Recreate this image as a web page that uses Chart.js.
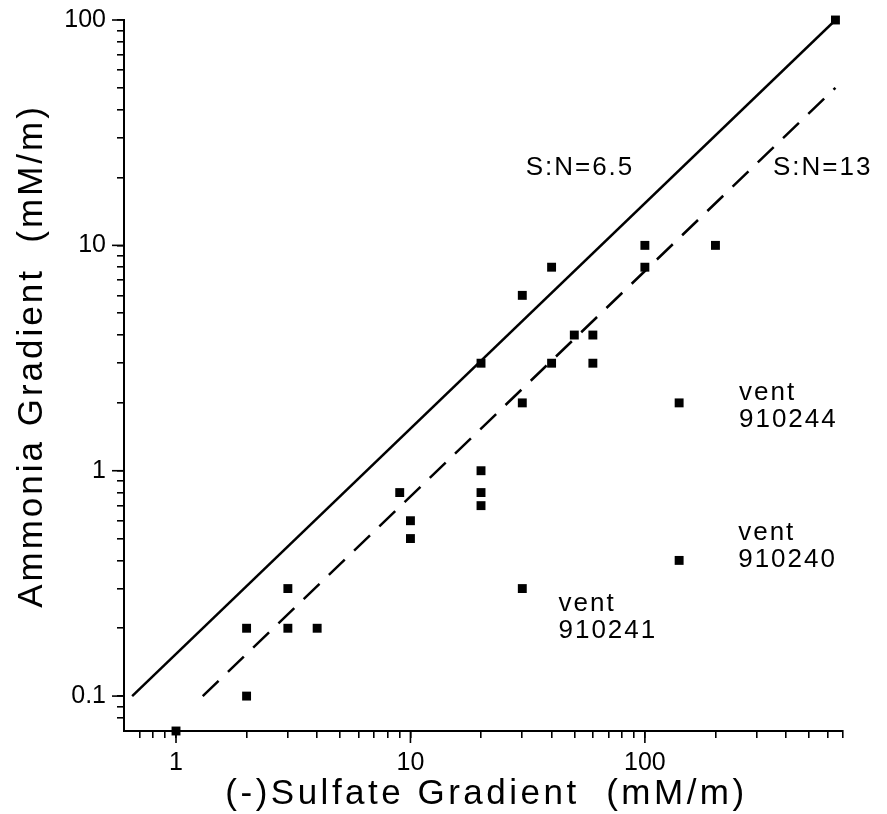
<!DOCTYPE html>
<html>
<head>
<meta charset="utf-8">
<script src="https://cdn.jsdelivr.net/npm/chart.js@4"></script>
<style>
  html, body { margin: 0; padding: 0; background: #fff; }
  #c { display: block; }
</style>
</head>
<body>
<canvas id="c" width="887" height="814"></canvas>
<script>
// ---------- data ----------
const sulfateGradient = [1, 2, 2, 3, 3, 4, 9, 10, 10, 20, 20, 20, 20, 30, 30, 30, 40, 40, 50, 60, 60, 100, 100, 140, 140, 200, 650];
const ammoniaGradient = [0.07, 0.1, 0.2, 0.3, 0.2, 0.2, 0.8, 0.6, 0.5, 3, 1, 0.8, 0.7, 6, 2, 0.3, 8, 3, 4, 4, 3, 10, 8, 2, 0.4, 10, 100];

// reference ratio lines (endpoints)
const ratio65LineX = [0.65, 650];
const ratio65LineY = [0.1, 100];
const ratio13LineX = [1.3, 650];
const ratio13LineY = [0.1, 50];

// axis ranges and ticks
const xMin = 0.62, xMax = 700;
const yMin = 0.07, yMax = 100;
const xTickValues = [0.7, 0.8, 0.9, 1, 2, 3, 4, 5, 6, 7, 8, 9, 10, 20, 30, 40, 50, 60, 70, 80, 90, 100, 200, 300, 400, 500, 600, 700];
const xTickLabels = { 1: '1', 10: '10', 100: '100' };
const yTickValues = [0.08, 0.09, 0.1, 0.2, 0.3, 0.4, 0.5, 0.6, 0.7, 0.8, 0.9, 1, 2, 3, 4, 5, 6, 7, 8, 9, 10, 20, 30, 40, 50, 60, 70, 80, 90, 100];
const yTickLabels = { 0.1: '0.1', 1: '1', 10: '10', 100: '100' };

const xTitle = '(-)Sulfate Gradient  (mM/m)';
const yTitle = 'Ammonia Gradient  (mM/m)';

// text notes: [lines, x value, y value of last baseline]
const noteTexts = [['S:N=6.5'], ['S:N=13'], ['vent', '910244'], ['vent', '910240'], ['vent', '910241']];
const noteX = [31, 352, 252, 250, 42.8];
const noteY = [20.5, 20.5, 1.56, 0.374, 0.181];

// ---------- chart ----------
const FONT = "'Liberation Sans', Arial, Helvetica, sans-serif";
Chart.defaults.font.family = FONT;
Chart.defaults.color = '#000';

const toPts = (xs, ys) => xs.map((x, i) => ({ x: x, y: ys[i] }));

const decorPlugin = {
  id: 'decor',
  afterDraw(chart) {
    const ctx = chart.ctx;
    const xs = chart.scales.x, ys = chart.scales.y;
    const area = chart.chartArea;
    ctx.save();
    // longer major ticks
    ctx.strokeStyle = '#000';
    ctx.lineWidth = 1.6;
    [1, 10, 100].forEach(v => {
      const px = xs.getPixelForValue(v);
      ctx.beginPath(); ctx.moveTo(px, area.bottom); ctx.lineTo(px, area.bottom + 12); ctx.stroke();
    });
    [0.1, 1, 10, 100].forEach(v => {
      const py = ys.getPixelForValue(v);
      ctx.beginPath(); ctx.moveTo(area.left, py); ctx.lineTo(area.left - 12, py); ctx.stroke();
    });

    ctx.fillStyle = '#000';
    // notes
    ctx.font = '26px ' + FONT;
    ctx.textAlign = 'left';
    ctx.textBaseline = 'alphabetic';
    try { ctx.letterSpacing = '2px'; } catch (e) {}
    noteTexts.forEach((lines, i) => {
      const px = xs.getPixelForValue(noteX[i]);
      const py = ys.getPixelForValue(noteY[i]);
      lines.forEach((t, j) => {
        ctx.fillText(t, px, py - (lines.length - 1 - j) * 27);
      });
    });

    // axis titles
    try { ctx.letterSpacing = '3.5px'; } catch (e) {}
    ctx.font = '35px ' + FONT;
    ctx.textAlign = 'center';
    ctx.fillText(xTitle, (area.left + area.right) / 2 + 3, 804);

    ctx.translate(42, 356);
    ctx.rotate(-Math.PI / 2);
    try { ctx.letterSpacing = '3px'; } catch (e) {}
    ctx.fillText(yTitle, 0, 0);
    ctx.restore();
  }
};

new Chart(document.getElementById('c'), {
  type: 'scatter',
  data: {
    datasets: [
      {
        label: 'samples',
        data: toPts(sulfateGradient, ammoniaGradient),
        pointStyle: 'rect',
        pointRadius: 6.3,
        backgroundColor: '#000',
        borderColor: '#000',
        borderWidth: 0,
        clip: false
      },
      {
        label: 'S:N=6.5',
        data: toPts(ratio65LineX, ratio65LineY),
        showLine: true,
        pointRadius: 0,
        borderColor: '#000',
        borderWidth: 2.5,
        fill: false
      },
      {
        label: 'S:N=13',
        data: toPts(ratio13LineX, ratio13LineY),
        showLine: true,
        pointRadius: 0,
        borderColor: '#000',
        borderWidth: 2.5,
        borderDash: [22, 13],
        fill: false
      }
    ]
  },
  options: {
    responsive: false,
    animation: false,
    devicePixelRatio: 1,
    layout: { padding: { left: 0, top: 20, right: 44, bottom: 0 } },
    plugins: { legend: { display: false }, tooltip: { enabled: false } },
    scales: {
      x: {
        type: 'logarithmic',
        position: 'bottom',
        min: xMin, max: xMax,
        afterBuildTicks: s => { s.ticks = xTickValues.map(v => ({ value: v })); },
        afterFit: s => { s.height = 83; s.paddingLeft = 0; s.paddingRight = 0; },
        ticks: {
          autoSkip: false, maxRotation: 0,
          font: { size: 25 },
          padding: 10,
          callback: v => xTickLabels[v] || ''
        },
        grid: { drawOnChartArea: false, drawTicks: true, tickLength: 7, color: '#000', lineWidth: 1.6 },
        border: { display: true, color: '#000', width: 2 },
        title: { display: false }
      },
      y: {
        type: 'logarithmic',
        position: 'left',
        min: yMin, max: yMax,
        afterBuildTicks: s => { s.ticks = yTickValues.map(v => ({ value: v })); },
        afterFit: s => { s.width = 124; s.paddingTop = 0; s.paddingBottom = 0; },
        ticks: {
          autoSkip: false,
          font: { size: 25 },
          padding: 11,
          callback: v => yTickLabels[v] || ''
        },
        grid: { drawOnChartArea: false, drawTicks: true, tickLength: 7, color: '#000', lineWidth: 1.6 },
        border: { display: true, color: '#000', width: 2 },
        title: { display: false }
      }
    }
  },
  plugins: [decorPlugin]
});
</script>
</body>
</html>
